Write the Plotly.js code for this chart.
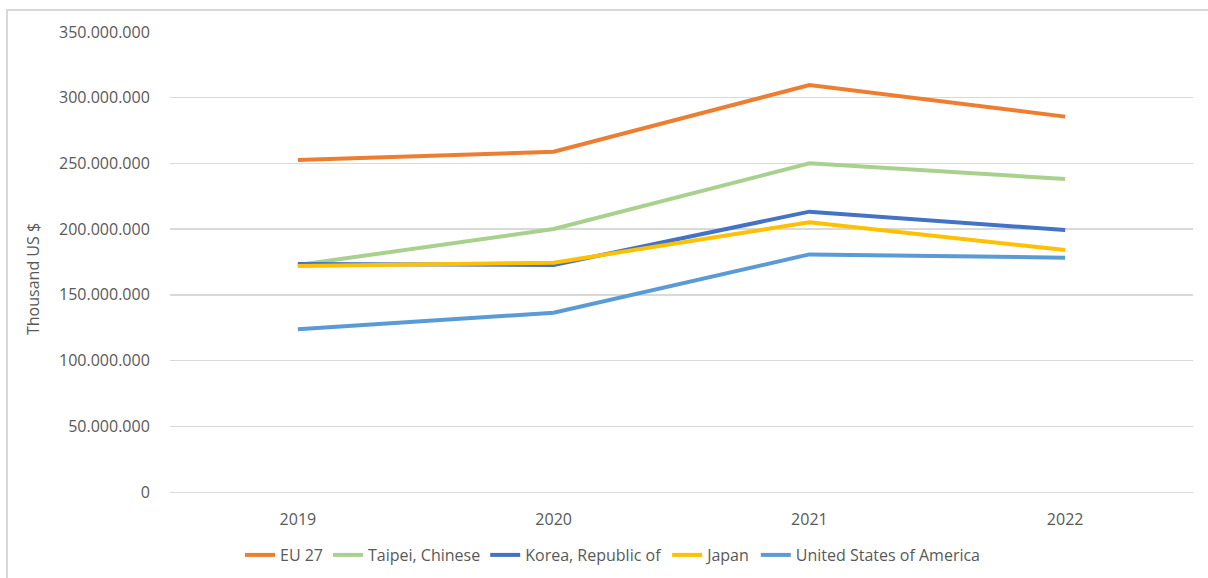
<!DOCTYPE html>
<html>
<head>
<meta charset="utf-8">
<script src="https://cdn.plot.ly/plotly-3.0.1.min.js"></script>
<style>
  html, body { margin: 0; padding: 0; background: #ffffff; }
  #wrap { position: relative; width: 1208px; height: 578px; overflow: hidden; }
  #frame { position: absolute; left: 6px; top: 9px; width: 1300px; height: 700px;
           border-left: 2px solid #d9d9d9; border-top: 2px solid #d9d9d9; pointer-events: none; }
  #chart { position: absolute; left: 0; top: 0; width: 1208px; height: 578px; }
</style>
</head>
<body>
<div id="wrap">
  <div id="chart"></div>
  <div id="frame"></div>
</div>
<script>
// ---- data (Thousand US $) ----
const years = ["2019", "2020", "2021", "2022"];
const eu27   = [252600000, 258900000, 309700000, 285600000];
const taipei = [172700000, 200100000, 250100000, 238200000];
const korea  = [173500000, 172700000, 213300000, 199300000];
const japan  = [172000000, 174500000, 205200000, 184100000];
const usa    = [123800000, 136400000, 180800000, 178300000];
const seriesNames = ["EU 27", "Taipei, Chinese", "Korea, Republic of", "Japan", "United States of America"];
const yTicks = [0, 50000000, 100000000, 150000000, 200000000, 250000000, 300000000, 350000000];

const colors = ["#ED7D31", "#A9D18E", "#4472C4", "#FFC000", "#5B9BD5"];
const allSeries = [eu27, taipei, korea, japan, usa];

const traces = allSeries.map((vals, i) => ({
  type: "scatter",
  mode: "lines",
  x: years,
  y: vals,
  name: seriesNames[i],
  line: { color: colors[i], width: 4 },
  hoverinfo: "x+y+name"
}));

const FONT = '"Open Sans", "Noto Sans", Arial, sans-serif';

const layout = {
  width: 1208,
  height: 578,
  margin: { l: 170, r: 15, t: 32, b: 86 },
  paper_bgcolor: "rgba(0,0,0,0)",
  plot_bgcolor: "rgba(0,0,0,0)",
  separators: ",.",
  font: { family: FONT, size: 16, color: "#595959" },
  showlegend: true,
  legend: {
    orientation: "h",
    xref: "container", yref: "container",
    x: 613 / 1208, xanchor: "center",
    y: 1 - 555 / 578, yanchor: "middle",
    font: { family: FONT, size: 16, color: "#595959" },
    itemwidth: 30,
    tracegroupgap: 0
  },
  xaxis: {
    type: "category",
    range: [-0.5, 3.5],
    showgrid: false,
    zeroline: false,
    showline: true,
    linecolor: "#d9d9d9",
    linewidth: 1,
    ticks: "outside",
    ticklen: 13,
    tickcolor: "rgba(0,0,0,0)",
    tickfont: { family: FONT, size: 16, color: "#595959" },
    automargin: false,
    fixedrange: true
  },
  yaxis: {
    range: [0, 350000000],
    tickvals: yTicks,
    tickformat: ",d",
    showgrid: true,
    gridcolor: "#d9d9d9",
    gridwidth: 1.3,
    zeroline: false,
    showline: false,
    ticks: "outside",
    ticklen: 16,
    tickcolor: "rgba(0,0,0,0)",
    tickfont: { family: FONT, size: 16, color: "#595959" },
    automargin: false,
    fixedrange: true
  },
  annotations: [{
    text: "Thousand US $",
    xref: "paper", yref: "paper",
    x: (33 - 170) / 1023, y: (492 - 279) / 460,
    xanchor: "center", yanchor: "middle",
    textangle: -90,
    showarrow: false,
    font: { family: FONT, size: 16, color: "#595959" }
  }]
};

Plotly.newPlot("chart", traces, layout, { displayModeBar: false, staticPlot: true });
</script>
</body>
</html>
